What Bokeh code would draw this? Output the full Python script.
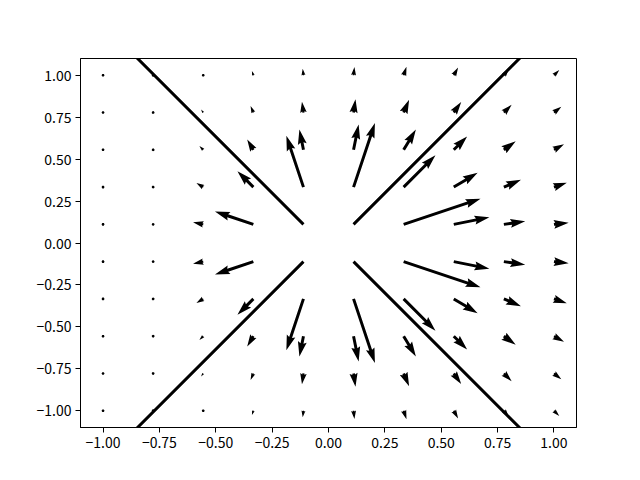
import math
from bokeh.plotting import figure
from bokeh.models import FixedTicker, Range1d
from bokeh.embed import file_html
from bokeh.resources import INLINE

# grid positions (x across, y up)
x_vals = [-1.0, -0.7778, -0.5556, -0.3333, -0.1111, 0.1111, 0.3333, 0.5556, 0.7778, 1.0]
y_vals = [-1.0, -0.7778, -0.5556, -0.3333, -0.1111, 0.1111, 0.3333, 0.5556, 0.7778, 1.0]

# vector components (rows: y from -1 to 1; columns: x from -1 to 1)
U = [
    [0, -0.09, -0.17, -0.19, -0.10, 0.12, 0.38, 0.58, 0.68, 0.71],
    [0, -0.13, -0.28, -0.37, -0.20, 0.26, 0.73, 0.99, 1.04, 0.98],
    [0, -0.20, -0.51, -0.82, -0.54, 0.68, 1.63, 1.78, 1.58, 1.34],
    [0, -0.29, -0.91, -2.12, -2.28, 2.85, 4.24, 3.18, 2.28, 1.71],
    [0, -0.36, -1.36, -5.12, -25.46, 31.82, 10.25, 4.75, 2.85, 1.96],
    [0, -0.36, -1.36, -5.12, -25.46, 31.82, 10.25, 4.75, 2.85, 1.96],
    [0, -0.29, -0.91, -2.12, -2.28, 2.85, 4.24, 3.18, 2.28, 1.71],
    [0, -0.20, -0.51, -0.82, -0.54, 0.68, 1.63, 1.78, 1.58, 1.34],
    [0, -0.13, -0.28, -0.37, -0.20, 0.26, 0.73, 0.99, 1.04, 0.98],
    [0, -0.09, -0.17, -0.19, -0.10, 0.12, 0.38, 0.58, 0.68, 0.71],
]
V = [
    [0, -0.11, -0.30, -0.57, -0.87, -1.09, -1.14, -1.04, -0.87, -0.71],
    [0, -0.13, -0.40, -0.86, -1.43, -1.78, -1.71, -1.39, -1.04, -0.77],
    [0, -0.14, -0.51, -1.36, -2.72, -3.39, -2.72, -1.78, -1.13, -0.74],
    [0, -0.12, -0.55, -2.12, -6.83, -8.54, -4.24, -1.91, -0.98, -0.57],
    [0, -0.05, -0.27, -1.71, -25.46, -31.82, -3.42, -0.95, -0.41, -0.22],
    [0, 0.05, 0.27, 1.71, 25.46, 31.82, 3.42, 0.95, 0.41, 0.22],
    [0, 0.12, 0.55, 2.12, 6.83, 8.54, 4.24, 1.91, 0.98, 0.57],
    [0, 0.14, 0.51, 1.36, 2.72, 3.39, 2.72, 1.78, 1.13, 0.74],
    [0, 0.13, 0.40, 0.86, 1.43, 1.78, 1.71, 1.39, 1.04, 0.77],
    [0, 0.11, 0.30, 0.57, 0.87, 1.09, 1.14, 1.04, 0.87, 0.71],
]

tick_vals = [-1.0, -0.75, -0.5, -0.25, 0.0, 0.25, 0.5, 0.75, 1.0]
tick_labels = ["\u22121.00", "\u22120.75", "\u22120.50", "\u22120.25", "0.00", "0.25", "0.50", "0.75", "1.00"]

# layout
FRAME_W, FRAME_H = 496, 369
XR = (-1.1, 1.1)
YR = (-1.1, 1.1)
px_x = FRAME_W / (XR[1] - XR[0])
px_y = FRAME_H / (YR[1] - YR[0])
SHAFT = 0.006 * FRAME_W      # shaft width in px
PX_PER_UNIT = 7.5            # arrow length scale (px per vector unit)
HL, HAL, HW = 5.0, 4.5, 3.0  # head length, head axis length, head width (shaft units)


def arrow_shape(L):
    """quiver-style arrow polygon, in shaft-width units, pointing +x."""
    if L < 1.0:
        th = [k * math.pi / 3.0 for k in range(8)]
        return [math.cos(t) * 0.5 for t in th], [math.sin(t) * 0.5 for t in th]
    ys = [0.5, 0.5, 0.5 * HW, 0.0, -0.5 * HW, -0.5, -0.5, 0.5]
    if L < HL:
        xs = [0, HL - HAL, 0, HL, 0, HL - HAL, 0, 0]
        s = L / HL
        return [v * s for v in xs], [v * s for v in ys]
    xs = [0, L - HAL, L - HL, L, L - HL, L - HAL, 0, 0]
    return xs, ys


pxs, pys = [], []
for j, yv in enumerate(y_vals):
    for i, xv in enumerate(x_vals):
        u, v = U[j][i], V[j][i]
        mag = math.hypot(u, v)
        L = mag * PX_PER_UNIT / SHAFT
        ang = math.atan2(v, u)
        ca, sa = math.cos(ang), math.sin(ang)
        sx, sy = arrow_shape(L)
        xs, ys = [], []
        for a, b in zip(sx, sy):
            rx = (a * ca - b * sa) * SHAFT
            ry = (a * sa + b * ca) * SHAFT
            xs.append(xv + rx / px_x)
            ys.append(yv + ry / px_y)
        pxs.append(xs)
        pys.append(ys)

p = figure(frame_width=FRAME_W, frame_height=FRAME_H,
           x_range=Range1d(*XR), y_range=Range1d(*YR),
           output_backend="svg", toolbar_location=None,
           min_border_left=80, min_border_right=56,
           min_border_top=58, min_border_bottom=45)
p.background_fill_color = "white"
p.border_fill_color = "white"
p.outline_line_color = "black"
p.outline_line_width = 1
p.xgrid.visible = False
p.ygrid.visible = False

p.patches(pxs, pys, fill_color="black", line_color=None)

overrides = {t: l for t, l in zip(tick_vals, tick_labels)}
for ax in (p.xaxis[0], p.yaxis[0]):
    ax.ticker = FixedTicker(ticks=tick_vals)
    ax.major_label_overrides = overrides
    ax.major_tick_in = 0
    ax.major_tick_out = 5
    ax.minor_tick_line_color = None
    ax.axis_line_color = "black"
    ax.major_tick_line_color = "black"
    ax.major_label_text_font = "Noto Sans CJK JP"
    ax.major_label_text_font_size = "14px"
    ax.major_label_text_color = "black"
    ax.major_label_standoff = 4

open("out.html", "w").write(file_html(p, INLINE))
